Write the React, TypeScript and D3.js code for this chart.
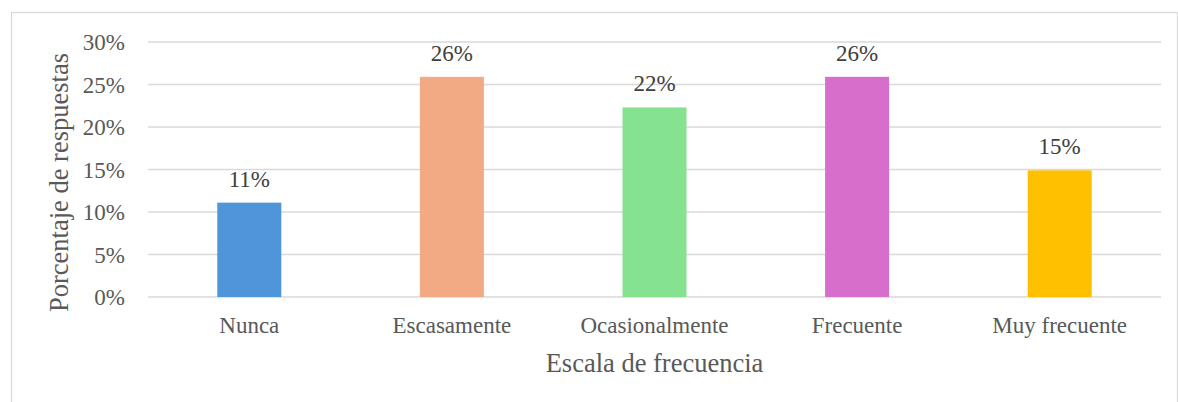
import React from "react";
import * as d3 from "d3";

const categories = ["Nunca", "Escasamente", "Ocasionalmente", "Frecuente", "Muy frecuente"];
const values = [0.111, 0.259, 0.223, 0.259, 0.149];
const valueLabels = ["11%", "26%", "22%", "26%", "15%"];
const colors = ["#4E95D9", "#F2AA84", "#84E291", "#D86ECC", "#FFC000"];
const yTicks = [0, 0.05, 0.1, 0.15, 0.2, 0.25, 0.3];
const xTitle = "Escala de frecuencia";
const yTitle = "Porcentaje de respuestas";

const W = 1178;
const H = 402;
const left = 148;
const right = 1161;
const top = 42;
const bottom = 297;
const FONT = "'Liberation Serif', 'Times New Roman', serif";

export default function App() {
  const x = d3
    .scaleBand<string>()
    .domain(categories)
    .range([left, right])
    .paddingInner(0.684)
    .paddingOuter(0.342);
  const y = d3.scaleLinear().domain([0, 0.3]).range([bottom, top]);
  const fmt = d3.format(".0%");

  return (
    <svg
      width={W}
      height={H}
      style={{ position: "absolute", left: 0, top: 0, background: "#fff" }}
      fontFamily={FONT}
    >
      <rect x={11.5} y={12.5} width={1166} height={400} fill="#fff" stroke="#D9D9D9" strokeWidth={1.3} />
      {yTicks.map((t) => (
        <g key={t}>
          <line x1={left} x2={right} y1={y(t)} y2={y(t)} stroke="#D9D9D9" strokeWidth={1.3} />
          <text x={125} y={y(t) + 8} textAnchor="end" fontSize={23} fill="#595959">
            {fmt(t)}
          </text>
        </g>
      ))}
      {categories.map((c, i) => (
        <g key={c}>
          <rect x={x(c)} y={y(values[i])} width={x.bandwidth()} height={bottom - y(values[i])} fill={colors[i]} />
          <text
            x={(x(c) as number) + x.bandwidth() / 2}
            y={y(values[i]) - 16}
            textAnchor="middle"
            fontSize={23}
            fill="#404040"
          >
            {valueLabels[i]}
          </text>
          <text
            x={(x(c) as number) + x.bandwidth() / 2}
            y={333}
            textAnchor="middle"
            fontSize={23}
            fill="#595959"
          >
            {c}
          </text>
        </g>
      ))}
      <text x={(left + right) / 2} y={372} textAnchor="middle" fontSize={26.5} fill="#595959">
        {xTitle}
      </text>
      <text
        transform={`translate(68, ${(top + bottom) / 2 + 13}) rotate(-90)`}
        textAnchor="middle"
        fontSize={26.5}
        fill="#595959"
      >
        {yTitle}
      </text>
    </svg>
  );
}
